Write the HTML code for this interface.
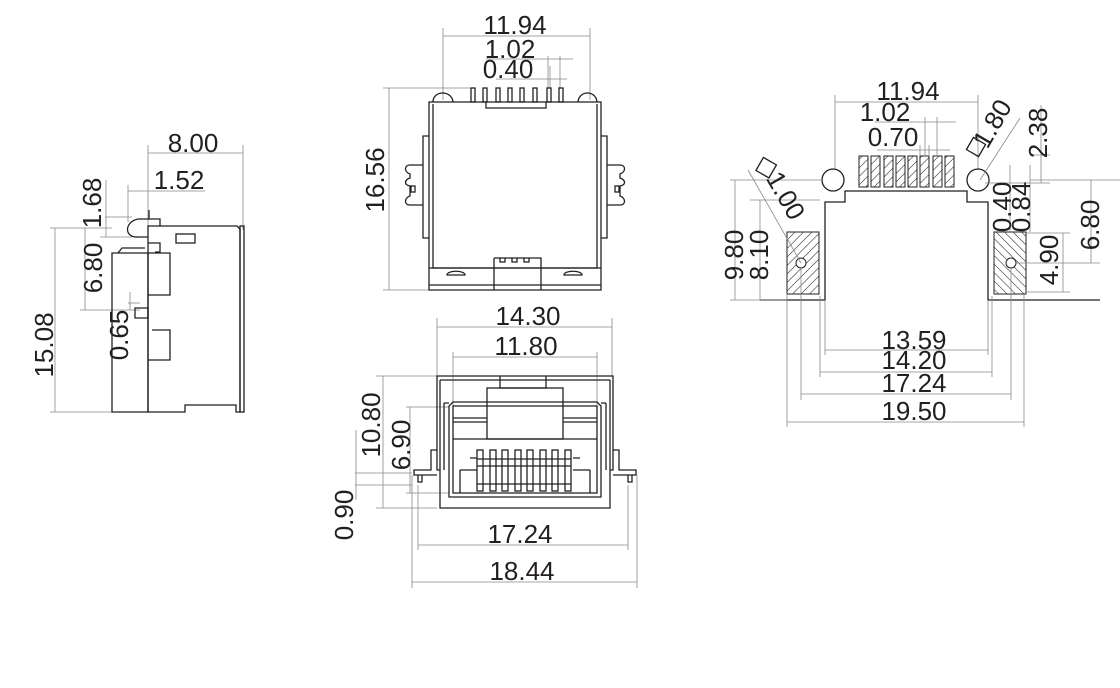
<!DOCTYPE html>
<html><head><meta charset="utf-8"><style>
html,body{margin:0;padding:0;background:#fff;}
svg{display:block}
text{font-family:"Liberation Sans",Arial,sans-serif;font-size:26px;fill:#231f20;text-anchor:middle;}
.t{stroke:#888;stroke-width:0.8;fill:none}
.b{stroke:#231f20;stroke-width:1.3;fill:none}
.h{stroke:#231f20;stroke-width:1;fill:url(#hat)}
</style></head><body>
<svg width="1120" height="688" viewBox="0 0 1120 688" xmlns="http://www.w3.org/2000/svg">
<defs>
<pattern id="hat" width="6" height="6" patternUnits="userSpaceOnUse" patternTransform="rotate(45)">
<rect width="6" height="6" fill="#fff"/><line x1="0" y1="0" x2="0" y2="6" stroke="#231f20" stroke-width="1"/>
</pattern>
<pattern id="hat2" width="6" height="6" patternUnits="userSpaceOnUse" patternTransform="rotate(-45)">
<rect width="6" height="6" fill="#fff"/><line x1="0" y1="0" x2="0" y2="6" stroke="#231f20" stroke-width="1"/>
</pattern>
</defs>

<!-- LEFT SIDE VIEW -->
<g>
<line class="t" x1="148" y1="145" x2="148" y2="232"/>
<line class="t" x1="243" y1="145" x2="243" y2="230"/>
<line class="t" x1="148" y1="153" x2="243" y2="153"/>
<text x="193" y="152">8.00</text>
<line class="t" x1="128" y1="191" x2="205" y2="191"/>
<line class="t" x1="128" y1="185" x2="128" y2="222"/>
<text x="179" y="189">1.52</text>
<line class="t" x1="105" y1="217" x2="132" y2="217"/>
<line class="t" x1="100" y1="237" x2="132" y2="237"/>
<line class="t" x1="106" y1="180" x2="106" y2="237"/>
<text transform="translate(101,203) rotate(-90)">1.68</text>
<line class="t" x1="50" y1="228" x2="112" y2="228"/>
<line class="t" x1="55" y1="228" x2="55" y2="412"/>
<line class="t" x1="50" y1="412" x2="112" y2="412"/>
<text transform="translate(53,345) rotate(-90)">15.08</text>
<line class="t" x1="85" y1="228" x2="85" y2="310"/>
<line class="t" x1="80" y1="310" x2="140" y2="310"/>
<text transform="translate(102,268) rotate(-90)">6.80</text>
<line class="t" x1="130" y1="292" x2="130" y2="310"/>
<line class="t" x1="128" y1="303" x2="140" y2="303"/>
<text transform="translate(128,335) rotate(-90)">0.65</text>
<path class="b" d="M148,226 L237,226 L240,229 L240,412 L236,412 L236,405 L185,405 L185,412 L148,412 Z"/>
<rect class="b" x="240" y="226" width="4" height="186"/>
<path class="b" d="M112,253 L148,253 L148,412 L112,412 Z"/>
<path class="b" d="M148,253 L170,253 L170,295 L148,295"/>
<path class="b" d="M148,360 L170,360 L170,330 L152,330"/>
<rect class="b" x="176" y="234" width="19" height="9"/>
<path class="b" d="M149,210 L149,219 M138,219 L160,219 L160,226 M138,219 C124,222 124,238 138,237 L148,237"/>
<path class="b" d="M118,253 L122,248 L145,248 M148,243 L160,243 L160,252 L155,252"/>
<path class="b" d="M135,308 L148,308 L148,318 L135,318 Z"/>
</g>

<!-- TOP VIEW -->
<g>
<line class="t" x1="443" y1="28" x2="443" y2="100"/>
<line class="t" x1="590" y1="28" x2="590" y2="100"/>
<line class="t" x1="443" y1="36" x2="590" y2="36"/>
<text x="515" y="34">11.94</text>
<line class="t" x1="486" y1="59" x2="573" y2="59"/>
<line class="t" x1="548" y1="56" x2="548" y2="88"/>
<line class="t" x1="560" y1="56" x2="560" y2="88"/>
<text x="510" y="58">1.02</text>
<line class="t" x1="496" y1="79" x2="567" y2="79"/>
<line class="t" x1="550" y1="66" x2="550" y2="88"/>
<text x="508" y="78">0.40</text>
<line class="t" x1="383" y1="88" x2="470" y2="88"/>
<line class="t" x1="389" y1="88" x2="389" y2="290"/>
<line class="t" x1="383" y1="290" x2="430" y2="290"/>
<text transform="translate(384,180) rotate(-90)">16.56</text>
<g class="b">
<rect x="471" y="88" width="4" height="14"/><rect x="483" y="88" width="4" height="14"/>
<rect x="496" y="88" width="4" height="14"/><rect x="508" y="88" width="4" height="14"/>
<rect x="520" y="88" width="4" height="14"/><rect x="533" y="88" width="4" height="14"/>
<rect x="547" y="88" width="4" height="14"/><rect x="559" y="88" width="4" height="14"/>
</g>
<path class="b" d="M429,102 L429,290 L601,290 L601,102 Z"/>
<path class="b" d="M433,104 L433,268 L597,268 L597,104"/>
<path class="b" d="M433,102 C433,90 452,90 453,102 M578,102 C579,90 596,90 597,102"/>
<path class="b" d="M486,102 L486,108 L546,108 L546,102"/>
<path class="b" d="M429,268 L601,268 M429,285 L601,285 M494,258 L541,258 L541,290 M494,258 L494,290"/>
<path class="b" d="M500,258 L500,262 L505,262 L505,258 M512,258 L512,262 L517,262 L517,258 M524,258 L524,262 L529,262 L529,258"/>
<path class="b" d="M447,275 C447,270 465,270 465,275 Z M564,275 C564,270 582,270 582,275 Z"/>
<path class="b" d="M429,136 L423,136 L423,238 L429,238"/>
<path class="b" d="M423,165 L410,165 C404,165 404,172 410,174 L410,178 C404,180 404,185 410,186 L410,196 C404,198 404,205 410,205 L423,205"/>
<rect class="b" x="411" y="186" width="4" height="6"/>
<path class="b" d="M601,136 L607,136 L607,238 L601,238"/>
<path class="b" d="M607,165 L620,165 C626,165 626,172 620,174 L620,178 C626,180 626,185 620,186 L620,196 C626,198 626,205 620,205 L607,205"/>
<rect class="b" x="615" y="186" width="4" height="6"/>
</g>

<!-- FRONT VIEW -->
<g>
<line class="t" x1="437" y1="318" x2="437" y2="376"/>
<line class="t" x1="612" y1="318" x2="612" y2="376"/>
<line class="t" x1="437" y1="327" x2="612" y2="327"/>
<text x="528" y="325">14.30</text>
<line class="t" x1="453" y1="352" x2="453" y2="410"/>
<line class="t" x1="597" y1="352" x2="597" y2="410"/>
<line class="t" x1="453" y1="357" x2="597" y2="357"/>
<text x="526" y="355">11.80</text>
<line class="t" x1="376" y1="376" x2="437" y2="376"/>
<line class="t" x1="383" y1="376" x2="383" y2="508"/>
<line class="t" x1="376" y1="508" x2="437" y2="508"/>
<text transform="translate(380,425) rotate(-90)">10.80</text>
<line class="t" x1="406" y1="407" x2="449" y2="407"/>
<line class="t" x1="410" y1="407" x2="410" y2="493"/>
<line class="t" x1="406" y1="493" x2="449" y2="493"/>
<text transform="translate(410,445) rotate(-90)">6.90</text>
<line class="t" x1="355" y1="473" x2="412" y2="473"/>
<line class="t" x1="355" y1="485" x2="412" y2="485"/>
<line class="t" x1="356" y1="430" x2="356" y2="500"/>
<text transform="translate(353,515) rotate(-90)">0.90</text>
<line class="t" x1="418" y1="485" x2="418" y2="550"/>
<line class="t" x1="628" y1="485" x2="628" y2="550"/>
<line class="t" x1="418" y1="545" x2="628" y2="545"/>
<text x="520" y="543">17.24</text>
<line class="t" x1="412" y1="475" x2="412" y2="588"/>
<line class="t" x1="637" y1="475" x2="637" y2="588"/>
<line class="t" x1="412" y1="582" x2="637" y2="582"/>
<text x="522" y="580">18.44</text>
<path class="b" d="M440,508 L440,470 L437,470 L437,376 L613,376 L613,470 L610,470 L610,508 Z"/>
<path class="b" d="M440,380 L610,380 M440,380 L440,470 M610,380 L610,470"/>
<path class="b" d="M500,376 L500,388 L546,388 L546,376"/>
<rect class="b" x="487" y="388" width="76" height="51"/>
<path class="b" d="M449,497 L449,406 L453,402 L597,402 L601,406 L601,497 Z"/>
<path class="b" d="M453,406 L453,493 L597,493 L597,406 Z"/>
<path class="b" d="M453,418 L487,418 M453,422 L487,422 M563,418 L597,418 M563,422 L597,422 M453,439 L597,439"/>
<path class="b" d="M444,403 L449,403 M444,403 L444,470 M606,403 L601,403 M606,403 L606,470"/>
<path class="b" d="M460,470 L460,493 M590,470 L590,493 M460,470 L477,470 M573,470 L590,470 M470,458 L477,458 M573,458 L580,458"/>
<g class="b">
<rect x="477" y="450" width="6" height="41"/><rect x="490" y="450" width="6" height="41"/>
<rect x="502" y="450" width="6" height="41"/><rect x="515" y="450" width="6" height="41"/>
<rect x="527" y="450" width="6" height="41"/><rect x="540" y="450" width="6" height="41"/>
<rect x="552" y="450" width="6" height="41"/><rect x="565" y="450" width="6" height="41"/>
</g>
<path class="b" d="M477,459 L571,459 M477,466 L571,466 M477,484 L571,484"/>
<path class="b" d="M437,450 L431,450 L431,470 L414,470 L414,475 L437,475 M418,475 L418,482 L422,482 L422,475"/>
<path class="b" d="M613,450 L619,450 L619,470 L636,470 L636,475 L613,475 M632,475 L632,482 L628,482 L628,475"/>
</g>

<!-- FOOTPRINT -->
<g>
<line class="t" x1="835" y1="95" x2="835" y2="170"/>
<line class="t" x1="978" y1="95" x2="978" y2="170"/>
<line class="t" x1="835" y1="102" x2="978" y2="102"/>
<text x="908" y="100">11.94</text>
<line class="t" x1="875" y1="122" x2="956" y2="122"/>
<line class="t" x1="925" y1="117" x2="925" y2="155"/>
<line class="t" x1="937" y1="117" x2="937" y2="155"/>
<text x="885" y="121">1.02</text>
<line class="t" x1="877" y1="150" x2="950" y2="150"/>
<line class="t" x1="920" y1="145" x2="920" y2="155"/>
<line class="t" x1="929" y1="145" x2="929" y2="155"/>
<text x="893" y="146">0.70</text>
<g class="h">
<rect x="859" y="156" width="9" height="31"/><rect x="871" y="156" width="9" height="31"/>
<rect x="884" y="156" width="9" height="31"/><rect x="896" y="156" width="9" height="31"/>
<rect x="908" y="156" width="9" height="31"/><rect x="920" y="156" width="9" height="31"/>
<rect x="933" y="156" width="9" height="31"/><rect x="945" y="156" width="9" height="31"/>
</g>
<circle class="b" cx="833" cy="180" r="11"/>
<circle class="b" cx="978" cy="180" r="11"/>
<path class="b" d="M760,300 L825,300 L825,202 L845,202 L845,191 L967,191 L967,202 L988,202 L988,300 L1100,300"/>
<rect x="787" y="232" width="32" height="62" stroke="#231f20" stroke-width="1" fill="url(#hat)"/>
<rect x="994" y="232" width="32" height="62" stroke="#231f20" stroke-width="1" fill="url(#hat2)"/>
<circle cx="801" cy="263" r="5" fill="#fff" stroke="#231f20"/>
<circle cx="1011" cy="263" r="5" fill="#fff" stroke="#231f20"/>
<line class="t" x1="825" y1="300" x2="825" y2="355"/>
<line class="t" x1="988" y1="300" x2="988" y2="355"/>
<line class="t" x1="825" y1="350" x2="988" y2="350"/>
<text x="914" y="349">13.59</text>
<line class="t" x1="820" y1="296" x2="820" y2="377"/>
<line class="t" x1="992" y1="296" x2="992" y2="377"/>
<line class="t" x1="820" y1="372" x2="992" y2="372"/>
<text x="914" y="369">14.20</text>
<line class="t" x1="801" y1="268" x2="801" y2="400"/>
<line class="t" x1="1011" y1="268" x2="1011" y2="400"/>
<line class="t" x1="801" y1="394" x2="1011" y2="394"/>
<text x="914" y="392">17.24</text>
<line class="t" x1="787" y1="294" x2="787" y2="427"/>
<line class="t" x1="1024" y1="294" x2="1024" y2="427"/>
<line class="t" x1="787" y1="422" x2="1024" y2="422"/>
<text x="914" y="420">19.50</text>
<line class="t" x1="730" y1="180" x2="822" y2="180"/>
<line class="t" x1="735" y1="180" x2="735" y2="300"/>
<line class="t" x1="750" y1="200" x2="820" y2="200"/>
<line class="t" x1="760" y1="200" x2="760" y2="300"/>
<line class="t" x1="730" y1="300" x2="787" y2="300"/>
<text transform="translate(743,255) rotate(-90)">9.80</text>
<text transform="translate(768,255) rotate(-90)">8.10</text>
<line class="t" x1="748" y1="170" x2="801" y2="263"/>
<rect class="b" x="759" y="160" width="15" height="15" transform="rotate(30 766 167)"/>
<text transform="translate(778,200) rotate(60)">1.00</text>
<line class="t" x1="1030" y1="155" x2="1050" y2="155"/>
<line class="t" x1="985" y1="183" x2="1050" y2="183"/>
<line class="t" x1="1041" y1="105" x2="1041" y2="183"/>
<text transform="translate(1047,133) rotate(-90)">2.38</text>
<line class="t" x1="1010" y1="165" x2="1010" y2="232"/>
<line class="t" x1="1030" y1="165" x2="1030" y2="232"/>
<line class="t" x1="1030" y1="180" x2="1120" y2="180"/>
<text transform="translate(1011,207) rotate(-90)">0.40</text>
<text transform="translate(1030,207) rotate(-90)">0.84</text>
<line class="t" x1="1026" y1="233" x2="1070" y2="233"/>
<line class="t" x1="1016" y1="263" x2="1100" y2="263"/>
<line class="t" x1="1026" y1="292" x2="1070" y2="292"/>
<line class="t" x1="1063" y1="233" x2="1063" y2="292"/>
<text transform="translate(1058,260) rotate(-90)">4.90</text>
<line class="t" x1="1091" y1="180" x2="1091" y2="263"/>
<text transform="translate(1099,225) rotate(-90)">6.80</text>
<line class="t" x1="980" y1="180" x2="1020" y2="118"/>
<rect class="b" x="969" y="140" width="14" height="14" transform="rotate(30 976 147)"/>
<text transform="translate(1000,128) rotate(-60)">1.80</text>
</g>
</svg>
</body></html>
